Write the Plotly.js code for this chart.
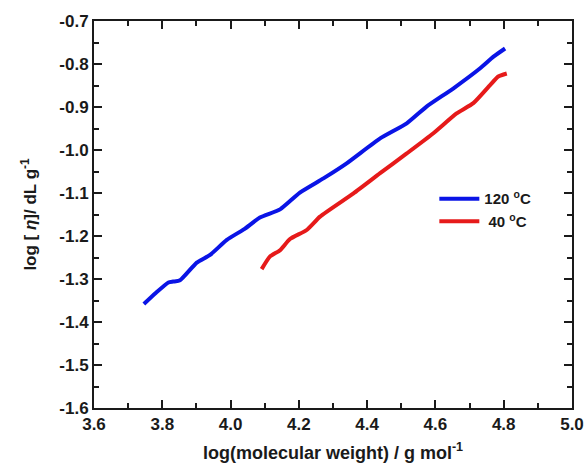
<!DOCTYPE html>
<html>
<head>
<meta charset="utf-8">
<script src="https://cdn.plot.ly/plotly-3.0.1.min.js"></script>
<style>html,body{margin:0;padding:0;background:#fff;}#chart{width:587px;height:466px;}</style>
</head>
<body>
<div id="chart"></div>
<script>
const seriesNames = ["120 <sup>o</sup>C", " 40 <sup>o</sup>C"];
const x120 = [3.746, 3.780, 3.818, 3.832, 3.852, 3.901, 3.940, 3.989, 4.040, 4.086, 4.145, 4.203, 4.272, 4.340, 4.438, 4.516, 4.574, 4.652, 4.731, 4.770, 4.804];
const y120 = [-1.358, -1.333, -1.308, -1.306, -1.303, -1.262, -1.244, -1.209, -1.184, -1.157, -1.138, -1.099, -1.066, -1.031, -0.973, -0.938, -0.899, -0.857, -0.810, -0.783, -0.764];
const x40 = [4.091, 4.115, 4.145, 4.174, 4.223, 4.262, 4.360, 4.438, 4.516, 4.594, 4.662, 4.711, 4.760, 4.784, 4.809];
const y40 = [-1.277, -1.248, -1.233, -1.207, -1.186, -1.155, -1.101, -1.054, -1.008, -0.961, -0.915, -0.891, -0.849, -0.829, -0.822];
const xTicks = [3.6, 3.8, 4.0, 4.2, 4.4, 4.6, 4.8, 5.0];
const xMinor = [3.7, 3.9, 4.1, 4.3, 4.5, 4.7, 4.9];
const yTicks = [-0.7, -0.8, -0.9, -1.0, -1.1, -1.2, -1.3, -1.4, -1.5, -1.6];
const yMinor = [-0.75, -0.85, -0.95, -1.05, -1.15, -1.25, -1.35, -1.45, -1.55];

const FONT = "Liberation Sans, Arial, sans-serif";
const INK = "#1a1a1a";
const traces = [
  {x: x120, y: y120, mode: "lines", name: seriesNames[0], line: {color: "#0a14e6", width: 4, shape: "spline", smoothing: 0.5}},
  {x: x40, y: y40, mode: "lines", name: seriesNames[1], line: {color: "#e61a1a", width: 4, shape: "spline", smoothing: 0.5}}
];
const layout = {
  width: 587, height: 466,
  margin: {l: 94, r: 15, t: 21, b: 58},
  paper_bgcolor: "#fff", plot_bgcolor: "#fff",
  showlegend: true,
  legend: {x: 0.712, y: 0.583, xanchor: "left", yanchor: "top", bgcolor: "rgba(0,0,0,0)",
    font: {family: FONT, size: 15, color: INK, weight: "bold"}, tracegroupgap: 0, itemwidth: 40},
  xaxis: {
    range: [3.6, 5.0], showgrid: false, zeroline: false, showline: true, linecolor: INK, linewidth: 2,
    mirror: "allticks", ticks: "inside", ticklen: 8, tickwidth: 2, tickcolor: INK,
    tickmode: "array", tickvals: xTicks, ticktext: xTicks.map(v => "<b>" + v.toFixed(1) + "</b>"),
    minor: {tickvals: xMinor, ticks: "inside", ticklen: 5, tickwidth: 2, tickcolor: INK},
    tickfont: {family: FONT, size: 17, color: INK},
    title: {text: "<b>log(molecular weight) / g mol<sup>-1</sup></b>", standoff: 13, font: {family: FONT, size: 18, color: INK}}
  },
  yaxis: {
    range: [-1.6, -0.7], showgrid: false, zeroline: false, showline: true, linecolor: INK, linewidth: 2,
    mirror: "allticks", ticks: "inside", ticklen: 8, tickwidth: 2, tickcolor: INK,
    tickmode: "array", tickvals: yTicks, ticktext: yTicks.map(v => "<b>" + v.toFixed(1) + "</b>"),
    minor: {tickvals: yMinor, ticks: "inside", ticklen: 5, tickwidth: 2, tickcolor: INK},
    tickfont: {family: FONT, size: 17, color: INK},
    title: {text: "<b>log [ <i>η</i>]/ dL g<sup>-1</sup></b>", standoff: 18, font: {family: FONT, size: 17, color: INK}}
  }
};
Plotly.newPlot("chart", traces, layout, {displayModeBar: false, staticPlot: true});
</script>
</body>
</html>
